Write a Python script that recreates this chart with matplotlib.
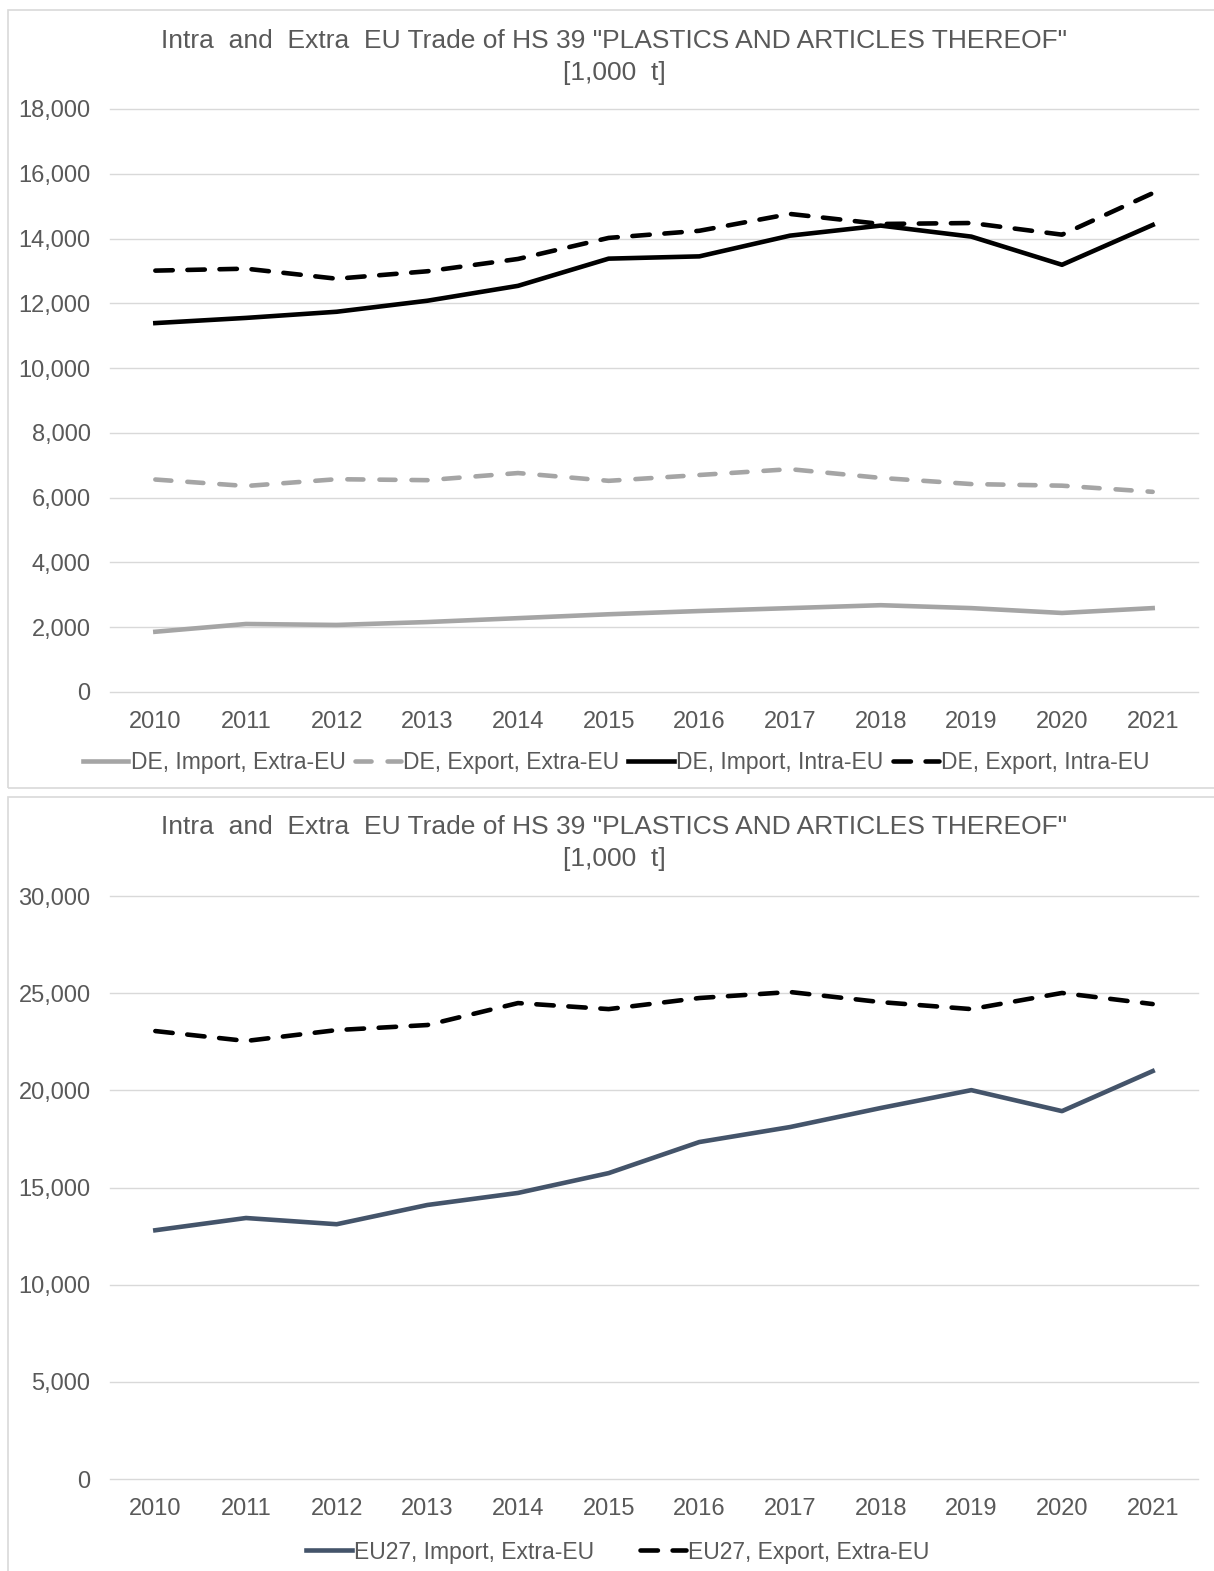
import matplotlib.pyplot as plt
from matplotlib.patches import Rectangle

plt.rcParams['font.family'] = ['Liberation Sans', 'DejaVu Sans']

# Jahre und Reihen (1.000 t)
anos = ['2010', '2011', '2012', '2013', '2014', '2015',
        '2016', '2017', '2018', '2019', '2020', '2021']

de_import_extra = [1860, 2100, 2070, 2160, 2280, 2400, 2500, 2590, 2680, 2590, 2440, 2590]
de_export_extra = [6560, 6360, 6570, 6540, 6760, 6520, 6700, 6880, 6610, 6420, 6370, 6180]
de_import_intra = [11390, 11550, 11740, 12080, 12540, 13380, 13450, 14090, 14400, 14060, 13190, 14420]
de_export_intra = [13010, 13070, 12760, 12990, 13370, 14020, 14240, 14760, 14450, 14480, 14120, 15400]

eu_import_extra = [12800, 13430, 13110, 14100, 14720, 15740, 17340, 18110, 19090, 20010, 18930, 20990]
eu_export_extra = [23050, 22540, 23100, 23360, 24490, 24180, 24750, 25060, 24540, 24180, 25010, 24440]

titulo = 'Intra  and  Extra  EU Trade of HS 39 "PLASTICS AND ARTICLES THEREOF"\n[1,000  t]'

W, H = 1214, 1571
cor_texto = '#595959'
cor_grade = '#D9D9D9'

fig = plt.figure(figsize=(W / 100, H / 100), dpi=100)


def caixa(x0, y0, x1, y1):
    # moldura cinza de cada grafico (coordenadas em pixels a partir do topo)
    fig.patches.append(Rectangle((x0 / W, 1 - y1 / H), (x1 - x0) / W, (y1 - y0) / H,
                                 transform=fig.transFigure, fill=False,
                                 edgecolor='#D9D9D9', linewidth=1.2))


def eixo(topo, base):
    ax = fig.add_axes([110 / W, 1 - base / H, (1198 - 110) / W, (base - topo) / H])
    for s in ax.spines.values():
        s.set_visible(False)
    ax.grid(axis='y', color=cor_grade, linewidth=1)
    ax.set_axisbelow(True)
    ax.tick_params(length=0, labelsize=17, labelcolor=cor_texto)
    ax.tick_params(axis='y', pad=14)
    ax.tick_params(axis='x', pad=14)
    ax.set_xlim(-0.5, len(anos) - 0.5)
    ax.yaxis.set_major_formatter(lambda v, p: f'{v:,.0f}')
    return ax


caixa(8, 10, 1222, 788)
caixa(8, 797, 1222, 1580)

# Grafico 1: Alemanha
ax1 = eixo(109, 692)
x = range(len(anos))
l1, = ax1.plot(x, de_import_extra, color='#A5A5A5', lw=3.3, label='DE, Import, Extra-EU')
l2, = ax1.plot(x, de_export_extra, color='#A5A5A5', lw=3.3, ls=(0, (3.5, 3.5)),
               dash_capstyle='round', label='DE, Export, Extra-EU')
l3, = ax1.plot(x, de_import_intra, color='black', lw=3.3, label='DE, Import, Intra-EU')
l4, = ax1.plot(x, de_export_intra, color='black', lw=3.3, ls=(0, (3.8, 3.2)),
               dash_capstyle='round', label='DE, Export, Intra-EU')
ax1.set_ylim(0, 18000)
ax1.set_yticks(range(0, 18001, 2000))
ax1.set_xticks(list(x), anos)
for g in ax1.get_ygridlines():
    g.set_clip_on(False)
fig.text(614 / W, 1 - 57 / H, titulo, ha='center', va='center', fontsize=19,
         color=cor_texto, linespacing=1.45)
fig.legend(handles=[l1, l2, l3, l4], loc='center', bbox_to_anchor=(616 / W, 1 - 763 / H),
           ncol=4, frameon=False, fontsize=16.5, labelcolor=cor_texto,
           handlelength=2.0, handletextpad=0.1, columnspacing=0.4, borderpad=0)

# Grafico 2: UE27
ax2 = eixo(896, 1479)
m1, = ax2.plot(x, eu_import_extra, color='#44546A', lw=3.3, label='EU27, Import, Extra-EU')
m2, = ax2.plot(x, eu_export_extra, color='black', lw=3.3, ls=(0, (3.8, 3.2)),
               dash_capstyle='round', label='EU27, Export, Extra-EU')
ax2.set_ylim(0, 30000)
ax2.set_yticks(range(0, 30001, 5000))
ax2.set_xticks(list(x), anos)
for g in ax2.get_ygridlines():
    g.set_clip_on(False)
fig.text(614 / W, 1 - 843 / H, titulo, ha='center', va='center', fontsize=19,
         color=cor_texto, linespacing=1.45)
fig.legend(handles=[m1, m2], loc='center', bbox_to_anchor=(618 / W, 1 - 1552 / H),
           ncol=2, frameon=False, fontsize=16.5, labelcolor=cor_texto,
           handlelength=2.0, handletextpad=0.1, columnspacing=2.0, borderpad=0)

fig.savefig('out.png', dpi=100)
